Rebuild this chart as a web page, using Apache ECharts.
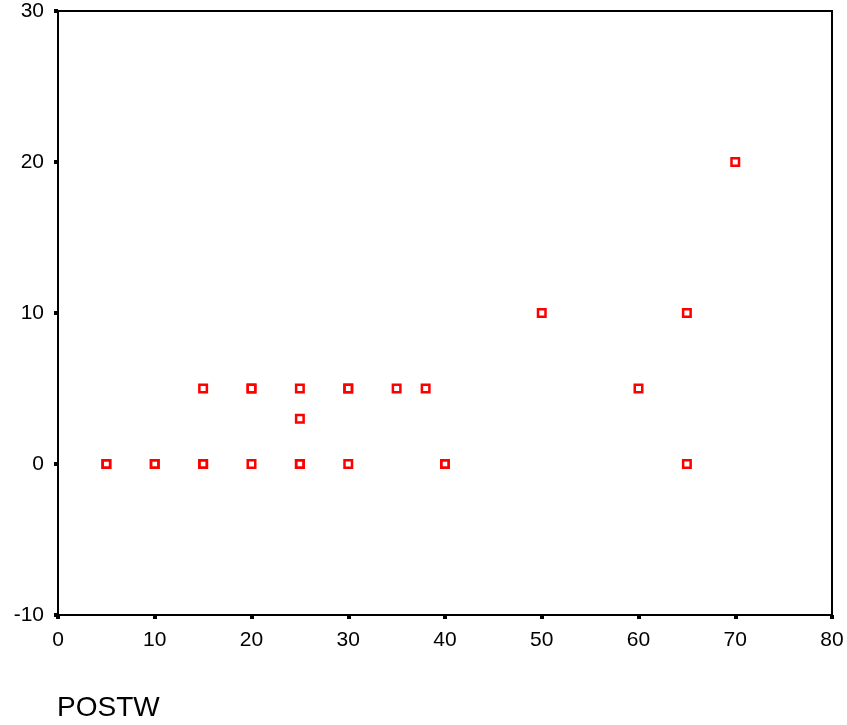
<!DOCTYPE html>
<html>
<head>
<meta charset="utf-8">
<script src="https://cdn.jsdelivr.net/npm/echarts@6/dist/echarts.min.js"></script>
<style>
html,body{margin:0;padding:0;background:#fff;}
#chart{width:847px;height:725px;}
</style>
</head>
<body>
<div id="chart"></div>
<script>
// Data (duplicates kept where markers look heavier)
const xValues = [5, 5, 10, 10, 15, 15, 15, 20, 20, 20, 25, 25, 25, 25, 30, 30, 30, 35, 38, 40, 40, 50, 60, 65, 65, 70];
const yValues = [0, 0, 0, 0, 0, 0, 5, 5, 5, 0, 5, 3, 0, 0, 5, 5, 0, 5, 5, 0, 0, 10, 5, 10, 0, 20];
const xTicks = [0, 10, 20, 30, 40, 50, 60, 70, 80];
const yTicks = [-10, 0, 10, 20, 30];
const xTitle = 'POSTW';

const points = xValues.map((x, i) => [x, yValues[i]]);

const chart = echarts.init(document.getElementById('chart'), null, {renderer: 'canvas'});
const font = 'Liberation Sans, Arial, sans-serif';
chart.setOption({
  animation: false,
  backgroundColor: '#fff',
  title: {
    text: xTitle,
    left: 52,
    top: 689,
    textStyle: {fontFamily: font, fontSize: 28, fontWeight: 'normal', color: '#000'}
  },
  grid: {
    left: 58, right: 15, top: 11, bottom: 110,
    show: true, borderColor: '#000', borderWidth: 2, backgroundColor: '#fff'
  },
  xAxis: {
    type: 'value',
    min: xTicks[0], max: xTicks[xTicks.length - 1], interval: 10,
    axisLine: {show: true, onZero: false, lineStyle: {color: '#000', width: 2}},
    axisTick: {show: true, length: 4, lineStyle: {color: '#000', width: 4}},
    splitLine: {show: false},
    axisLabel: {fontFamily: font, fontSize: 21, color: '#000', margin: 15}
  },
  yAxis: {
    type: 'value',
    min: yTicks[0], max: yTicks[yTicks.length - 1], interval: 10,
    axisLine: {show: true, onZero: false, lineStyle: {color: '#000', width: 2}},
    axisTick: {show: true, length: 4, lineStyle: {color: '#000', width: 4}},
    splitLine: {show: false},
    axisLabel: {fontFamily: font, fontSize: 21, color: '#000', margin: 14}
  },
  series: [{
    type: 'scatter',
    data: points,
    symbol: 'rect',
    symbolSize: 7.5,
    itemStyle: {color: 'rgba(255,255,255,0)', borderColor: '#ff0000', borderWidth: 2.5, opacity: 1}
  }]
});
</script>
</body>
</html>
